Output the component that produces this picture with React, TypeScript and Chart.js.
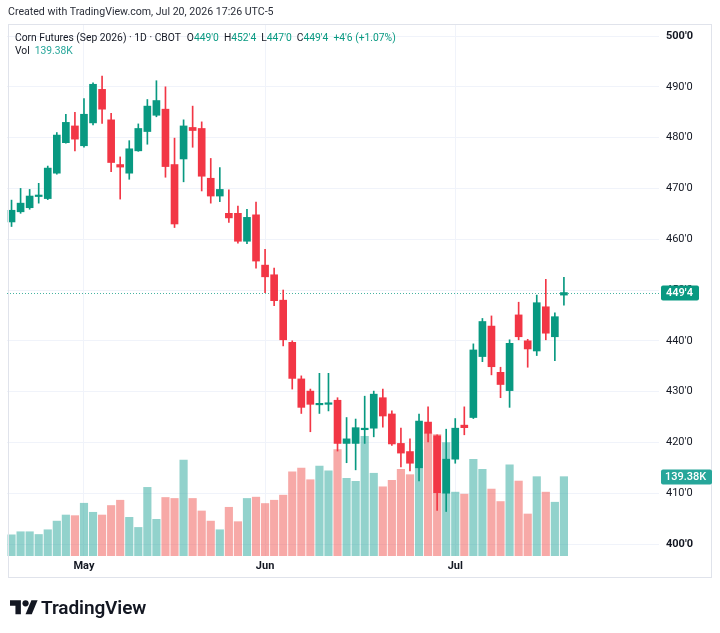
import { useEffect, useRef } from 'react';
import { Chart, registerables } from 'chart.js';

Chart.register(...registerables);

// ---- Data -----------------------------------------------------------------

const dates = [
  '2026-04-21', '2026-04-22', '2026-04-23', '2026-04-24', '2026-04-27', '2026-04-28', '2026-04-29', '2026-04-30',
  '2026-05-01', '2026-05-04', '2026-05-05', '2026-05-06', '2026-05-07', '2026-05-08', '2026-05-11', '2026-05-12',
  '2026-05-13', '2026-05-14', '2026-05-15', '2026-05-18', '2026-05-19', '2026-05-20', '2026-05-21', '2026-05-22',
  '2026-05-26', '2026-05-27', '2026-05-28', '2026-05-29',
  '2026-06-01', '2026-06-02', '2026-06-03', '2026-06-04', '2026-06-05', '2026-06-08', '2026-06-09', '2026-06-10',
  '2026-06-11', '2026-06-12', '2026-06-15', '2026-06-16', '2026-06-17', '2026-06-18', '2026-06-22', '2026-06-23',
  '2026-06-24', '2026-06-25', '2026-06-26', '2026-06-29', '2026-06-30',
  '2026-07-01', '2026-07-02', '2026-07-06', '2026-07-07', '2026-07-08', '2026-07-09', '2026-07-10', '2026-07-13',
  '2026-07-14', '2026-07-15', '2026-07-16', '2026-07-17', '2026-07-20',
];

const opens = [
  463.4, 465.4, 466.2, 468.4, 468.0, 473.0, 479.0, 482.3, 478.4, 482.9,
  489.5, 483.5, 474.7, 473.0, 477.4, 481.2, 484.4, 485.6, 474.7, 475.8,
  482.0, 481.8, 472.0, 468.5, 465.1, 465.1, 459.6, 464.8, 454.9, 453.0,
  448.0, 439.7, 432.5, 430.1, 427.4, 427.5, 428.3, 419.8, 419.8, 422.5,
  422.8, 428.8, 425.6, 419.8, 418.2, 415.0, 424.0, 421.3, 410.0, 416.7,
  423.4, 424.9, 436.9, 442.9, 433.8, 430.2, 445.1, 440.0, 438.0, 446.7,
  440.8, 449.0,
];

const highs = [
  467.7, 470.0, 469.8, 471.0, 474.4, 481.0, 484.6, 485.0, 487.7, 490.8,
  492.1, 484.8, 476.2, 479.4, 482.7, 487.5, 491.2, 490.0, 479.9, 483.5,
  486.2, 483.1, 475.9, 474.1, 469.7, 466.5, 465.9, 467.3, 458.0, 454.3,
  450.0, 440.0, 433.1, 430.5, 433.6, 433.6, 428.8, 424.9, 424.6, 429.1,
  430.1, 430.5, 426.2, 422.8, 420.7, 425.6, 427.0, 421.5, 422.6, 424.7,
  427.0, 439.4, 444.4, 444.9, 434.8, 440.2, 447.6, 440.3, 449.0, 452.1,
  445.5, 452.5,
];

const lows = [
  462.5, 465.1, 465.9, 467.1, 467.8, 472.8, 478.9, 477.4, 478.1, 482.5,
  482.8, 473.3, 467.9, 471.8, 477.3, 478.7, 484.1, 472.2, 462.3, 471.3,
  478.1, 469.5, 467.1, 467.4, 463.3, 459.2, 459.1, 454.3, 449.5, 446.9,
  439.0, 430.5, 425.7, 422.1, 425.7, 426.2, 418.3, 416.0, 414.6, 419.8,
  421.1, 423.0, 419.4, 415.2, 414.4, 412.4, 420.1, 406.6, 406.4, 415.9,
  421.5, 424.7, 435.9, 433.3, 428.8, 426.9, 440.2, 434.8, 437.1, 440.2,
  436.1, 447.0,
];

const closes = [
  465.7, 467.1, 468.5, 468.7, 474.0, 480.5, 483.0, 479.7, 484.6, 490.5,
  485.6, 475.1, 474.2, 477.8, 481.8, 486.2, 487.3, 474.3, 463.0, 482.3,
  481.4, 472.4, 468.5, 469.8, 464.2, 459.6, 464.3, 455.7, 452.6, 447.9,
  440.2, 432.6, 426.9, 427.5, 427.7, 427.8, 419.8, 420.7, 422.9, 422.8,
  429.5, 425.2, 419.7, 417.9, 415.9, 424.2, 421.8, 410.1, 416.7, 422.8,
  422.9, 438.2, 443.8, 434.9, 431.4, 439.5, 440.8, 438.4, 447.5, 441.5,
  444.75, 449.5,
];

// volume in thousands of contracts
const volumes = [
  37.2, 42.6, 42.6, 37.8, 46.1, 61.3, 72.0, 70.9, 92.7, 76.8,
  72.0, 88.7, 98.0, 67.9, 50.2, 120.6, 64.4, 102.8, 101.1, 168.4,
  101.1, 79.1, 61.3, 46.1, 85.6, 60.3, 101.1, 103.4, 92.2, 98.0,
  106.9, 147.7, 154.3, 134.0, 157.8, 149.5, 187.2, 136.5, 131.2, 210.3,
  145.4, 121.6, 133.0, 152.5, 142.9, 186.7, 216.3, 213.3, 199.1, 112.2,
  108.7, 169.9, 152.1, 117.6, 95.7, 160.1, 131.7, 73.8, 139.4, 112.2,
  94.5, 139.38,
];

const priceTicks = [400, 410, 420, 430, 440, 450, 460, 470, 480, 490, 500];
const monthNames = ['Jan', 'Feb', 'Mar', 'Apr', 'May', 'Jun', 'Jul', 'Aug', 'Sep', 'Oct', 'Nov', 'Dec'];

const symbolTitle = 'Corn Futures (Sep 2026) · 1D · CBOT';
const createdLine = 'Created with TradingView.com, Jul 20, 2026 17:26 UTC-5';

// ---- Styling ----------------------------------------------------------------

const FONT = 'Roboto, "Noto Sans", sans-serif';
const TEXT = '#131722';
const UP = '#089981';
const DOWN = '#f23645';
const UP_VOL = 'rgba(38,166,154,0.5)';
const DOWN_VOL = 'rgba(239,83,80,0.5)';
const VOL_TAG = '#26a69a';
const GRID = '#f0f3fa';
const FRAME = '#e0e3eb';
const EMPTY_SLOTS = 10;

// CBOT grain prices are quoted in eighths of a cent: 449.5 -> 449'4
const fmtPrice = (v: number) => {
  const sign = v < 0 ? '-' : '';
  const a = Math.abs(v);
  const whole = Math.floor(a + 1e-9);
  const eighths = Math.round((a - whole) * 8);
  return `${sign}${whole}'${eighths}`;
};

const fmtVol = (v: number) => `${v.toFixed(2)}K`;

const monthOf = (d: string) => Number(d.slice(5, 7)) - 1;
const monthTicks: Record<number, string> = {};
dates.forEach((d, i) => {
  if (i > 0 && monthOf(d) !== monthOf(dates[i - 1])) monthTicks[i] = monthNames[monthOf(d)];
});

const last = dates.length - 1;
const lastOpen = opens[last];
const lastHigh = highs[last];
const lastLow = lows[last];
const lastClose = closes[last];
const change = lastClose - closes[last - 1];
const changePct = (change / closes[last - 1]) * 100;
const lastVol = volumes[last];

export default function App() {
  const ref = useRef<HTMLCanvasElement>(null);

  useEffect(() => {
    const canvas = ref.current;
    if (!canvas) return;
    const isUp = closes.map((c, i) => c >= opens[i]);
    const labels = [...dates, ...Array(EMPTY_SLOTS).fill('')];

    const overlay = {
      id: 'overlay',
      beforeDatasetsDraw(chart: any) {
        const { ctx, chartArea, scales } = chart;
        const y = Math.round(scales.y.getPixelForValue(lastClose)) + 0.5;
        ctx.save();
        ctx.strokeStyle = 'rgba(8,153,129,0.75)';
        ctx.lineWidth = 1;
        ctx.setLineDash([1, 2]);
        ctx.beginPath();
        ctx.moveTo(Math.round(chartArea.left), y);
        ctx.lineTo(chartArea.right, y);
        ctx.stroke();
        ctx.restore();
      },
      afterDraw(chart: any) {
        const { ctx, chartArea, scales } = chart;
        ctx.save();
        // pane frame
        ctx.strokeStyle = FRAME;
        ctx.lineWidth = 1;
        ctx.strokeRect(8.5, 24.5, 703, 553);

        ctx.textBaseline = 'middle';
        ctx.textAlign = 'left';
        // last price tag
        const py = scales.y.getPixelForValue(lastClose);
        const px = chartArea.right + 2;
        ctx.fillStyle = lastClose >= lastOpen ? UP : DOWN;
        ctx.beginPath();
        ctx.roundRect(px, Math.round(py) - 7.5, 38, 15, 2);
        ctx.fill();
        ctx.fillStyle = '#ffffff';
        ctx.font = `600 11px ${FONT}`;
        ctx.fillText(fmtPrice(lastClose), px + 5, py + 0.5);

        // last volume tag
        const vy = scales.yVol.getPixelForValue(lastVol);
        ctx.fillStyle = VOL_TAG;
        ctx.beginPath();
        ctx.roundRect(px, Math.round(vy) - 7.5, 51, 15, 2);
        ctx.fill();
        ctx.fillStyle = '#ffffff';
        ctx.font = `500 11px ${FONT}`;
        ctx.fillText(fmtVol(lastVol), px + 4, vy + 0.5);
        ctx.restore();
      },
    };

    const chart = new Chart(canvas, {
      type: 'bar',
      data: {
        labels,
        datasets: [
          {
            label: 'Body',
            data: opens.map((o, i) => [Math.min(o, closes[i]), Math.max(o, closes[i])]),
            backgroundColor: isUp.map((u) => (u ? UP : DOWN)),
            barThickness: 7,
            minBarLength: 1,
            grouped: false,
            order: 1,
            yAxisID: 'y',
          },
          {
            label: 'Wick',
            data: lows.map((l, i) => [l, highs[i]]),
            backgroundColor: isUp.map((u) => (u ? UP : DOWN)),
            barThickness: 1,
            grouped: false,
            order: 2,
            yAxisID: 'y',
          },
          {
            label: 'Volume',
            data: volumes,
            backgroundColor: isUp.map((u) => (u ? UP_VOL : DOWN_VOL)),
            barThickness: 7.5,
            grouped: false,
            order: 3,
            yAxisID: 'yVol',
          },
        ] as any,
      },
      options: {
        animation: false,
        responsive: false,
        layout: { padding: { left: 7, right: 8, top: 25, bottom: 55 } },
        plugins: { legend: { display: false }, tooltip: { enabled: false } },
        scales: {
          x: {
            type: 'category',
            offset: true,
            grid: {
              offset: false,
              drawTicks: false,
              color: (c: any) => (monthTicks[c.index] ? GRID : 'rgba(0,0,0,0)'),
            },
            border: { display: false },
            ticks: {
              autoSkip: false,
              maxRotation: 0,
              padding: 4,
              color: TEXT,
              font: { family: FONT, size: 11, weight: 'bold' },
              callback: (_v: any, i: number) => monthTicks[i] ?? '',
            },
            afterFit: (s: any) => {
              s.height = 22;
            },
          },
          y: {
            position: 'right',
            min: 397.64,
            max: 502.17,
            afterBuildTicks: (s: any) => {
              s.ticks = priceTicks.map((v) => ({ value: v }));
            },
            grid: { color: GRID, drawTicks: false },
            border: { display: false },
            ticks: {
              padding: 7,
              color: TEXT,
              font: (c: any) => ({
                family: FONT,
                size: 11,
                weight: c.tick && c.tick.value % 100 === 0 ? 'bold' : 'normal',
              }),
              callback: (v: any) => fmtPrice(Number(v)),
            },
            afterFit: (s: any) => {
              s.width = 53;
            },
          },
          yVol: {
            display: false,
            min: 0,
            max: 933,
          },
        },
      } as any,
      plugins: [overlay],
    });
    return () => chart.destroy();
  }, []);

  const green = { color: UP };
  const sign = change >= 0 ? '+' : '-';

  return (
    <div
      style={{
        position: 'fixed',
        left: 0,
        top: 0,
        width: 720,
        height: 633,
        background: '#ffffff',
        fontFamily: FONT,
        color: TEXT,
        overflow: 'hidden',
      }}
    >
      <canvas ref={ref} width={720} height={633} style={{ position: 'absolute', left: 0, top: 0 }} />
      <div style={{ position: 'absolute', left: 8, top: 5, fontSize: 10.6, whiteSpace: 'nowrap', color: '#2a2e39' }}>
        {createdLine}
      </div>
      <div style={{ position: 'absolute', left: 15, top: 31, fontSize: 10.3, whiteSpace: 'nowrap' }}>
        <span>{symbolTitle}</span>
        <span style={{ marginLeft: 6 }}>O</span>
        <span style={green}>{fmtPrice(lastOpen)}</span>
        <span style={{ marginLeft: 5 }}>H</span>
        <span style={green}>{fmtPrice(lastHigh)}</span>
        <span style={{ marginLeft: 5 }}>L</span>
        <span style={green}>{fmtPrice(lastLow)}</span>
        <span style={{ marginLeft: 5 }}>C</span>
        <span style={green}>{fmtPrice(lastClose)}</span>
        <span style={{ ...green, marginLeft: 5 }}>
          {sign}
          {fmtPrice(Math.abs(change))} ({sign}
          {Math.abs(changePct).toFixed(2)}%)
        </span>
      </div>
      <div style={{ position: 'absolute', left: 15, top: 44, fontSize: 10.3, whiteSpace: 'nowrap' }}>
        <span>Vol</span>
        <span style={{ color: VOL_TAG, marginLeft: 5 }}>{fmtVol(lastVol)}</span>
      </div>
      <div style={{ position: 'absolute', left: 10, top: 596, display: 'flex', alignItems: 'center' }}>
        <svg width={28} height={22} viewBox="0 0 36 28">
          <path d="M14 22H7V11H0V4h14v18z" fill={TEXT} />
          <circle cx={20} cy={8} r={4} fill={TEXT} />
          <path d="M28 22h-8l7.5-18h8L28 22z" fill={TEXT} />
        </svg>
        <span style={{ fontSize: 19, fontWeight: 600, marginLeft: 3, letterSpacing: -0.1 }}>TradingView</span>
      </div>
    </div>
  );
}
